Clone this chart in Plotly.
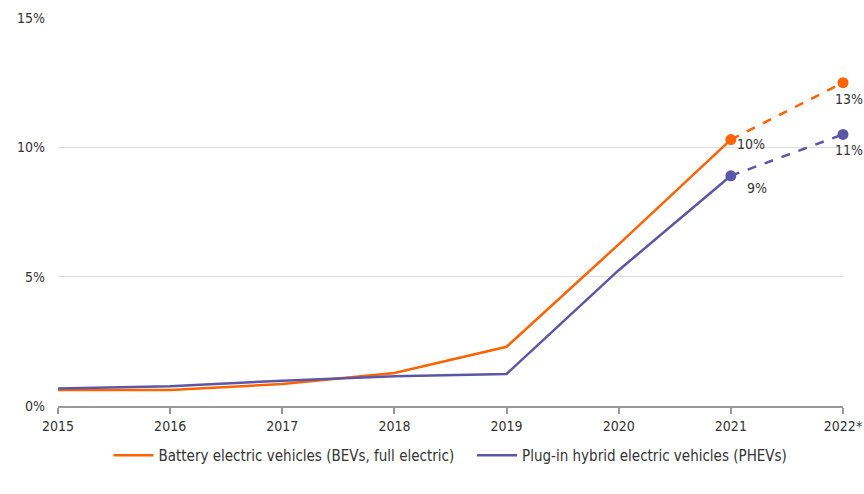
import plotly.graph_objects as go

years = ["2015", "2016", "2017", "2018", "2019", "2020", "2021", "2022*"]
bev = [0.62, 0.62, 0.85, 1.28, 2.29, 6.25, 10.3, 12.5]
phev = [0.68, 0.76, 0.98, 1.15, 1.24, 5.25, 8.9, 10.5]
bev_labels = ["10%", "13%"]
phev_labels = ["9%", "11%"]

ORANGE = "#FF6200"
PURPLE = "#5B57A6"
FONT = "DejaVu Sans Condensed"
x = list(range(len(years)))

fig = go.Figure()
fig.add_trace(go.Scatter(x=x[:7], y=bev[:7], mode="lines", line=dict(color=ORANGE, width=2.5),
                         name="Battery electric vehicles (BEVs, full electric)   "))
fig.add_trace(go.Scatter(x=x[:7], y=phev[:7], mode="lines", line=dict(color=PURPLE, width=2.5),
                         name="Plug-in hybrid electric vehicles (PHEVs)"))
fig.add_trace(go.Scatter(x=x[6:], y=bev[6:], mode="lines", line=dict(color=ORANGE, width=2.5, dash="dash"),
                         showlegend=False))
fig.add_trace(go.Scatter(x=x[6:], y=phev[6:], mode="lines", line=dict(color=PURPLE, width=2.5, dash="dash"),
                         showlegend=False))
fig.add_trace(go.Scatter(x=x[6:], y=bev[6:], mode="markers", marker=dict(color=ORANGE, size=11),
                         showlegend=False, cliponaxis=False))
fig.add_trace(go.Scatter(x=x[6:], y=phev[6:], mode="markers", marker=dict(color=PURPLE, size=11),
                         showlegend=False, cliponaxis=False))

txt = dict(size=14, color="#333333", family=FONT)
fig.add_annotation(x=x[6], y=bev[6], text=bev_labels[0], showarrow=False, xanchor="left", yanchor="middle",
                   xshift=4, yshift=-4, font=txt)
fig.add_annotation(x=x[6], y=phev[6], text=phev_labels[0], showarrow=False, xanchor="left", yanchor="top",
                   xshift=14, yshift=-2, font=txt)
fig.add_annotation(x=x[7], y=bev[7], text=bev_labels[1], showarrow=False, xanchor="center", yanchor="top",
                   xshift=6, yshift=-6, font=txt)
fig.add_annotation(x=x[7], y=phev[7], text=phev_labels[1], showarrow=False, xanchor="center", yanchor="top",
                   xshift=6, yshift=-6, font=txt)

fig.update_layout(
    width=864, height=494,
    margin=dict(l=58, r=21, t=18, b=88),
    paper_bgcolor="white", plot_bgcolor="white",
    font=dict(family=FONT, size=14, color="#333333"),
    legend=dict(orientation="h", x=0.5, xanchor="center", y=-0.085, yanchor="top",
                font=dict(size=15, color="#333333"), itemwidth=40),
    xaxis=dict(tickmode="array", tickvals=x, ticktext=years, range=[0, 7], automargin=False,
               showgrid=False, showline=True, linecolor="#999999", linewidth=1.5,
               ticks="outside", tickcolor="#999999", ticklen=6, tickwidth=1.5, zeroline=False),
    yaxis=dict(range=[0, 15], tickvals=[0, 5, 10, 15], ticktext=["0%", "5%", "10%", "15%"],
               automargin=False,
               showgrid=True, gridcolor="#DDDDDD", gridwidth=1, zeroline=False, ticks="",
               ticklabelstandoff=12),
)

fig.write_html("out.html")
